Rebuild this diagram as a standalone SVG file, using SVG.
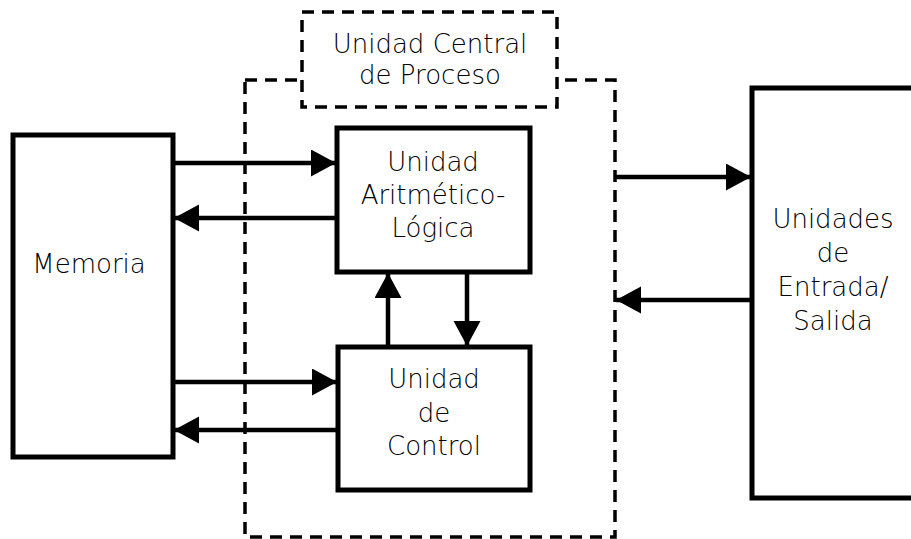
<svg xmlns="http://www.w3.org/2000/svg" width="911" height="539" viewBox="0 0 911 539">
<style>
.box{fill:#fff;stroke:#000;stroke-width:5}
.dash{fill:none;stroke:#000;stroke-width:3.5;stroke-dasharray:12 8}
.dashw{fill:#fff;stroke:#000;stroke-width:3.5;stroke-dasharray:12 8}
.conn{stroke:#000;stroke-width:4.5;fill:none;marker-end:url(#ah)}
text{font-family:"DejaVu Sans","Liberation Sans",sans-serif;font-size:26px;font-weight:200;fill:#000;text-anchor:middle}
</style>
<defs>
<marker id="ah" markerUnits="userSpaceOnUse" markerWidth="26" markerHeight="28" refX="25" refY="13.5" orient="auto">
<path d="M0,0 L25,13.5 L0,27 z" fill="#000"/>
</marker>
</defs>
<g id="cpu">
<rect class="dash" x="245" y="80" width="370" height="457"/>
</g>
<g id="cpu-label">
<rect class="dashw" x="302" y="12" width="255" height="95"/>
<text x="430" y="53">Unidad Central</text>
<text x="430" y="84">de Proceso</text>
</g>
<g id="memoria">
<rect class="box" x="13" y="135" width="160" height="322"/>
<text x="89" y="273">Memoria</text>
</g>
<g id="alu">
<rect class="box" x="337" y="128" width="193" height="144"/>
<text x="433" y="171">Unidad</text>
<text x="433" y="204">Aritmético-</text>
<text x="433" y="237">Lógica</text>
</g>
<g id="control">
<rect class="box" x="338" y="347" width="192" height="143"/>
<text x="434" y="388">Unidad</text>
<text x="434" y="422">de</text>
<text x="434" y="455">Control</text>
</g>
<g id="io">
<rect class="box" x="752" y="88" width="170" height="410"/>
<text x="833" y="228">Unidades</text>
<text x="833" y="262">de</text>
<text x="833" y="296">Entrada/</text>
<text x="833" y="330">Salida</text>
</g>
<g id="connectors">
<line class="conn" x1="175" y1="163" x2="336" y2="163"/>
<line class="conn" x1="335" y1="218" x2="174" y2="218"/>
<line class="conn" x1="175" y1="382" x2="337" y2="382"/>
<line class="conn" x1="336" y1="430" x2="174" y2="430"/>
<line class="conn" x1="388" y1="345" x2="388" y2="273"/>
<line class="conn" x1="467" y1="274" x2="467" y2="346"/>
<line class="conn" x1="615" y1="177" x2="751" y2="177"/>
<line class="conn" x1="750" y1="300" x2="616" y2="300"/>
</g>
</svg>
